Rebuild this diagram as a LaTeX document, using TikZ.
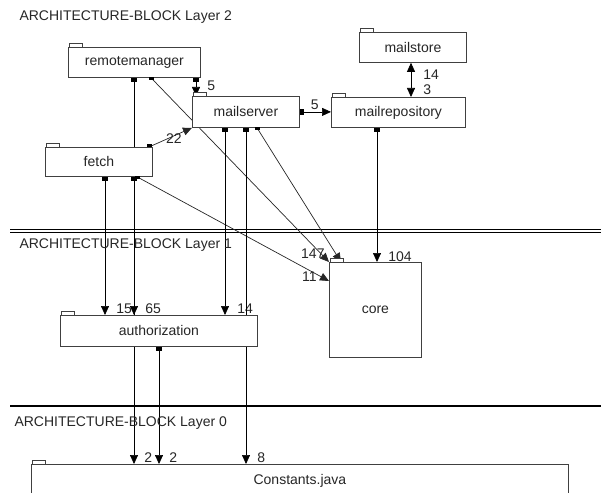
\documentclass[tikz,border=0pt]{standalone}
\usepackage{fontspec}
\setmainfont{Liberation Sans}
\usetikzlibrary{arrows.meta}
\pgfdeclarelayer{bg}
\pgfsetlayers{bg,main}

\begin{document}
\begin{tikzpicture}[x=1pt, y=-1pt,
    font=\fontsize{14}{16}\selectfont,
    pkg/.style={draw=black!75, fill=white, line width=0.8pt, anchor=north west, inner sep=0pt, text=black!85},
    dep/.style={line width=0.7pt, {Rectangle[length=4pt,width=6pt]}-{Triangle[length=9pt,width=8pt]}},
    diag/.style={line width=0.7pt, black!85, -{Triangle[length=9pt,width=8pt]}},
    both/.style={line width=0.7pt, {Triangle[length=9pt,width=8pt]}-{Triangle[length=9pt,width=8pt]}},
    num/.style={inner sep=0pt, text=black!85}]
    \path[use as bounding box, clip] (0,0) rectangle (601,492);

    % Layer titles
    \node[anchor=base west, text=black!85] (title2) at (16,21) {ARCHITECTURE-BLOCK Layer 2};
    \node[anchor=base west, text=black!85] (title1) at (16,248) {ARCHITECTURE-BLOCK Layer 1};
    \node[anchor=base west, text=black!85] (title0) at (11,426) {ARCHITECTURE-BLOCK Layer 0};

    % Packages
    \node[pkg, minimum width=132pt, minimum height=30pt] (remotemanager) at (68,47) {remotemanager};
    \node[pkg, minimum width=107pt, minimum height=31pt] (mailserver) at (192,96) {mailserver};
    \node[pkg, minimum width=107pt, minimum height=29pt] (fetch) at (45,147) {fetch};
    \node[pkg, minimum width=107pt, minimum height=30pt] (mailstore) at (359,32) {mailstore};
    \node[pkg, minimum width=134pt, minimum height=30pt] (mailrepository) at (331,97) {mailrepository};
    \node[pkg, minimum width=197pt, minimum height=31pt] (authorization) at (60,315) {authorization};
    \node[pkg, minimum width=92pt, minimum height=95pt] (core) at (329,262) {core};
    \node[pkg, minimum width=537pt, minimum height=32pt] (constants) at (31,464) {Constants.java};

    % Tabs
    \foreach \n in {remotemanager,mailserver,fetch,mailstore,mailrepository,authorization,core,constants}
        \draw[draw=black!75, line width=0.8pt, fill=white] ([xshift=1pt]\n.north west) rectangle ++(13,-4);

    % Start marks of the slanted dependencies
    \fill (148.5,77) rectangle (153.5,80);
    \fill (254.5,127) rectangle (259.5,130);
    \fill (146.5,144) rectangle (151.5,147);
    \fill (134.5,176) rectangle (139.5,179);

    \begin{pgfonlayer}{bg}
    % Layer separators
    \draw[line width=0.8pt] (10,229) -- (601,229);
    \draw[line width=0.8pt] (10,232) -- (601,232);
    \draw[line width=2pt] (10,406) -- (601,406);

    % Dependencies in layer 2
    \draw[dep] (196,0 |- remotemanager.south) -- (196,0 |- mailserver.north)
        node[num, at end, anchor=south west, xshift=11pt, yshift=5pt] (n5a) {5};
    \draw[diag] (149,0 |- fetch.north) -- (mailserver.south west)
        node[num, at end, anchor=north east, xshift=-10pt, yshift=-6pt] (n22) {22};
    \draw[dep] (mailserver.east) -- (mailserver.east -| mailrepository.west)
        node[num, at end, anchor=south east, xshift=-12pt, yshift=2pt] (n5b) {5};
    \draw[both] (411,0 |- mailstore.south) -- (411,0 |- mailrepository.north)
        node[num, at start, anchor=north west, xshift=12pt, yshift=-7pt] (n14a) {14}
        node[num, at end, anchor=south west, xshift=12pt, yshift=2pt] (n3) {3};

    % Dependencies to core
    \draw[diag] (151,0 |- remotemanager.south) -- (core.north west)
        node[num, at end, anchor=south east, xshift=-12pt, yshift=3pt] (n14b) {14};
    \draw[diag] (257,0 |- mailserver.south) -- (341,0 |- core.north)
        node[num, at end, anchor=south east, xshift=-16pt, yshift=3pt] (n7) {7};
    \draw[diag] (137,0 |- fetch.south) -- (core.west |- 0,281)
        node[num, at end, anchor=south east, xshift=-12pt, yshift=-1pt] (n11) {11};
    \draw[dep] (377,0 |- mailrepository.south) -- (377,0 |- core.north)
        node[num, at end, anchor=south west, xshift=11pt] (n104) {104};

    % Dependencies to authorization
    \draw[dep] (105,0 |- fetch.south) -- (105,0 |- authorization.north)
        node[num, at end, anchor=south west, xshift=11pt, yshift=1pt] (n15) {15};
    \draw[dep] (134,0 |- fetch.south) -- (134,0 |- authorization.north)
        node[num, at end, anchor=south west, xshift=11pt, yshift=1pt] (n65) {65};
    \draw[dep] (225,0 |- mailserver.south) -- (225,0 |- authorization.north)
        node[num, at end, anchor=south west, xshift=12pt, yshift=1pt] (n14c) {14};

    % Dependencies to Constants.java
    \draw[dep] (134,0 |- remotemanager.south) -- (134,0 |- constants.north)
        node[num, at end, anchor=south west, xshift=10pt, yshift=1pt] (n2a) {2};
    \draw[dep] (159,0 |- authorization.south) -- (159,0 |- constants.north)
        node[num, at end, anchor=south west, xshift=10pt, yshift=1pt] (n2b) {2};
    \draw[dep] (246,0 |- mailserver.south) -- (246,0 |- constants.north)
        node[num, at end, anchor=south west, xshift=11pt, yshift=1pt] (n8) {8};
    \end{pgfonlayer}
\end{tikzpicture}
\end{document}
